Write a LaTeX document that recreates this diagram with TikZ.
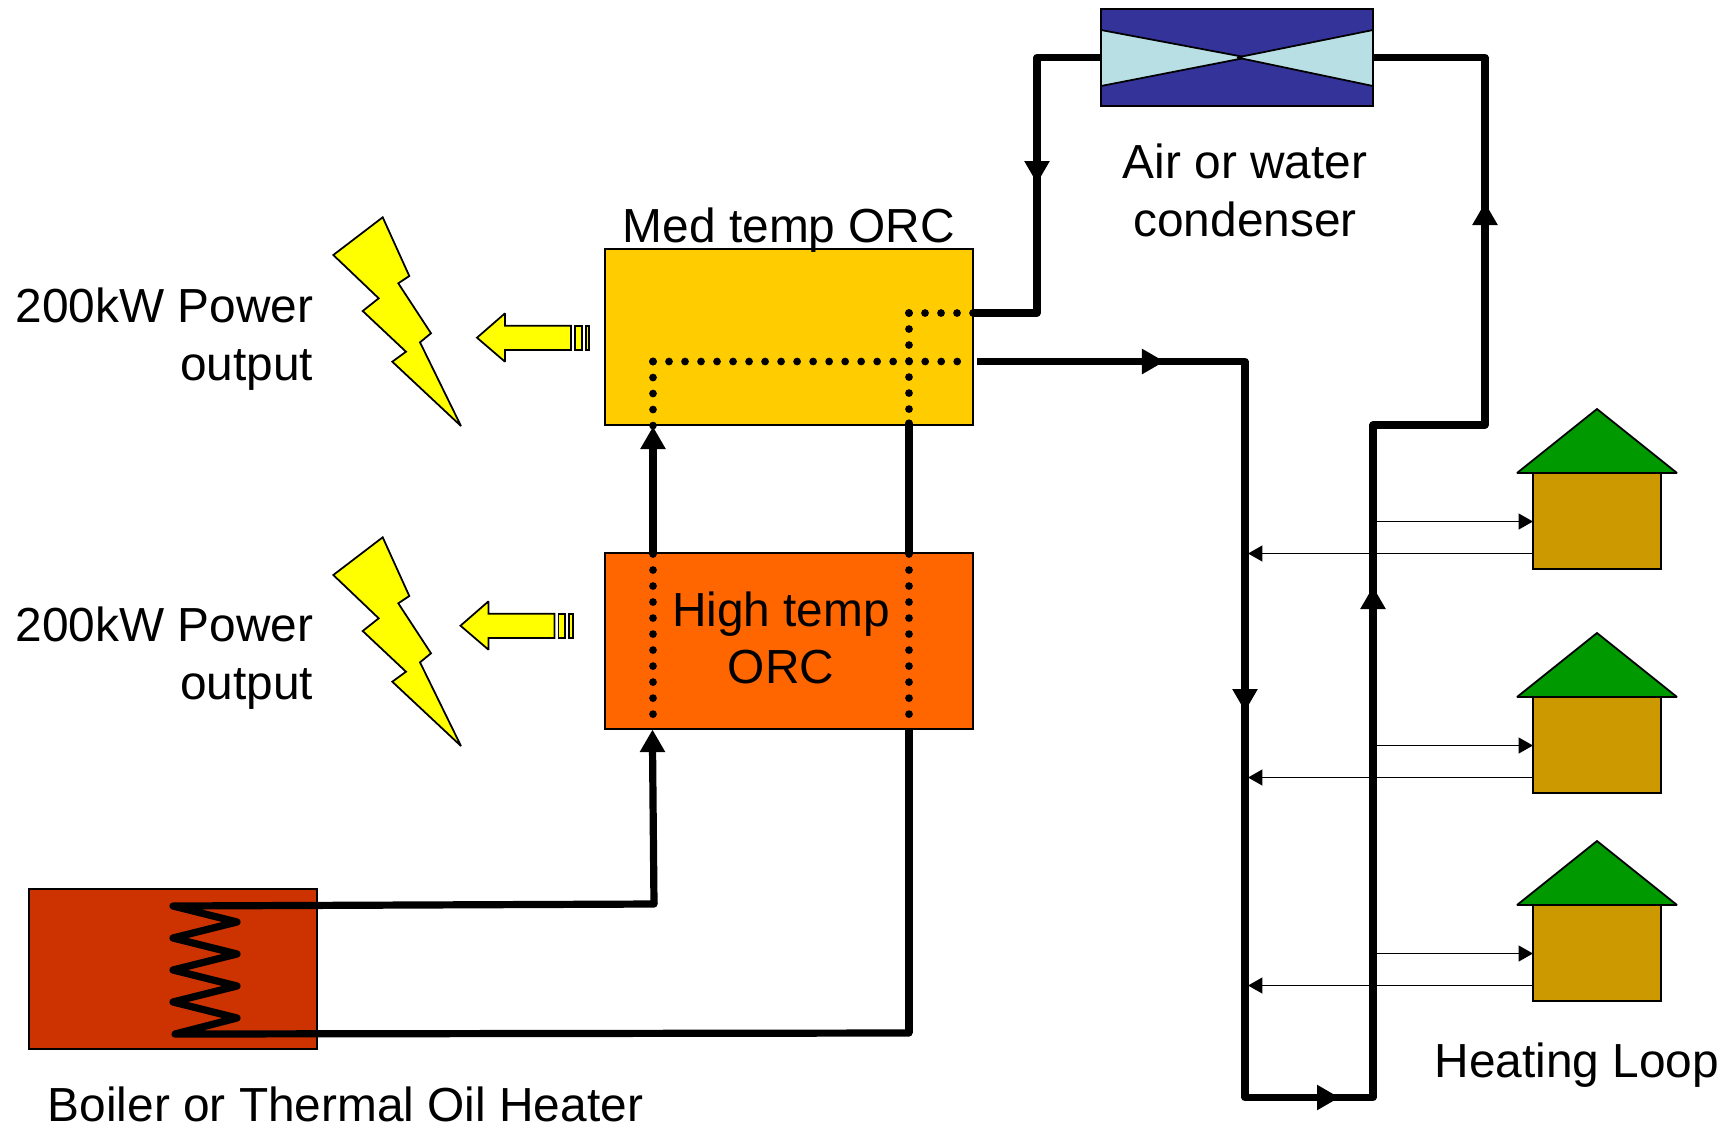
\documentclass[tikz,border=0pt]{standalone}
\usepackage{fontspec}
\setmainfont{Liberation Sans}
\usetikzlibrary{arrows.meta}
\definecolor{medorc}{RGB}{255,204,0}
\definecolor{highorc}{RGB}{255,102,0}
\definecolor{boilerred}{RGB}{204,51,0}
\definecolor{fanblue}{RGB}{51,51,153}
\definecolor{fanpale}{RGB}{184,224,228}
\definecolor{wallbrown}{RGB}{204,153,0}
\definecolor{roofgreen}{RGB}{0,153,0}
\definecolor{boltyellow}{RGB}{255,255,0}
\tikzset{
  txt/.style={font=\fontsize{13.6}{16.6}\selectfont, inner sep=0pt, align=center},
  plant/.style={draw=black, line width=0.5pt, inner sep=0pt},
  pipe/.style={line width=2.05pt, line join=round},
  pipetip/.style={line width=2.05pt, -{Triangle[length=6.4pt,width=6.8pt]}},
  dots/.style={line width=2.2pt, line cap=round, dash pattern=on 0pt off 4.553pt},
  branch/.style={line width=0.55pt, -{Triangle[length=4.1pt,width=4.5pt]}},
  bolt/.style={draw=black, fill=boltyellow, line width=0.5pt, miter limit=2},
  wall/.style={draw=black, fill=wallbrown, line width=0.5pt},
  roof/.style={draw=black, fill=roofgreen, line width=0.5pt, miter limit=2},
  blade/.style={draw=black, fill=fanpale, line width=0.5pt, miter limit=2}
}
\begin{document}
\begin{tikzpicture}[x=0.01cm,y=-0.01cm]
\useasboundingbox (0,0) rectangle (1732,1126);

% boxes
\node [plant, fill=medorc, minimum width=3.68cm, minimum height=1.76cm] (medbox) at (789,337) {};
\node [plant, fill=highorc, minimum width=3.68cm, minimum height=1.76cm] (highbox) at (789,641) {};
\node [plant, fill=boilerred, minimum width=2.88cm, minimum height=1.60cm] (boiler) at (173,969) {};
\node [plant, fill=fanblue, minimum width=2.72cm, minimum height=0.965cm] (fan) at (1237,57.5) {};

% condenser
\coordinate (FL1) at (1101,30);
\coordinate (FL2) at (1101,86);
\coordinate (FR1) at (1373,30);
\coordinate (FR2) at (1373,86);
\coordinate (FML) at (1247,57.5);
\coordinate (FMR) at (1237,57.5);
\draw [blade] (FL1)--(FML)--(FL2)--cycle;
\draw [blade] (FR1)--(FMR)--(FR2)--cycle;

% coil and boiler pipes
\coordinate (C0) at (173,906);
\coordinate (C1) at (237,922);
\coordinate (C2) at (173,938);
\coordinate (C3) at (237,954);
\coordinate (C4) at (173,970);
\coordinate (C5) at (237,986);
\coordinate (C6) at (173,1002);
\coordinate (C7) at (237,1018);
\coordinate (C8) at (175,1034);
\coordinate (HL) at (654,904);
\coordinate (HR) at (909,1033);
\draw [pipe, line cap=round] (HL)--(C0)--(C1)--(C2)--(C3)--(C4)--(C5)--(C6)--(C7)--(C8)--(HR);
\draw [pipe] (HR)--(HR |- highbox.south);
\draw [pipe] (HL)--(652.5,745);
\draw [pipetip] (652.5,760)--(652.5,729.5);
\draw [pipe, line cap=round] (909,423)--(909,553);
\draw [pipe, line cap=round] (653,553)--(653,445);
\draw [pipetip] (653,460)--(653,426.5);

% dotted runs inside the boxes
\draw [dots] (653,554)--(653,716);
\draw [dots] (909,554)--(909,716);
\draw [dots] (653,361.5)--(653,427);
\draw [dots] (653,361.5)--(960,361.5);
\draw [dots] (909,313)--(909,427);
\draw [dots] (909,313)--(975,313);

% outer loop
\coordinate (P1) at (973,313);
\coordinate (P2) at (1037,313);
\coordinate (P4) at (1037,57.5);
\coordinate (P5) at (1485,57.5);
\coordinate (P7) at (1485,425);
\coordinate (P8) at (1373,425);
\coordinate (P10) at (1373,1097.5);
\coordinate (P11) at (1245,1097.5);
\coordinate (P12) at (1245,361.5);
\coordinate (P13) at (977,361.5);
\draw [pipe] (P1)--(P2)--(P4)--(fan.west);
\draw [pipe] (fan.east)--(P5)--(P7)--(P8)--(P10)--(P11)--(P12)--(P13);

% flow tips on the loop
\draw [pipetip] (1037,150)--(1037,183.5);
\draw [pipetip] (1485,240)--(1485,202.5);
\draw [pipetip] (1120,361.5)--(1164.5,361.5);
\draw [pipetip] (1245,670)--(1245,711.5);
\draw [pipetip] (1300,1097.5)--(1339.5,1097.5);
\draw [pipetip] (1373,630)--(1373,586.5);

% houses
\draw [wall] (1533,473) rectangle (1661,569);
\draw [roof] (1517,473)--(1597,409)--(1677,473)--cycle;
\draw [wall] (1533,697) rectangle (1661,793);
\draw [roof] (1517,697)--(1597,633)--(1677,697)--cycle;
\draw [wall] (1533,905) rectangle (1661,1001);
\draw [roof] (1517,905)--(1597,841)--(1677,905)--cycle;

\draw [branch] (1373,521.5)--(1533,521.5);
\draw [branch] (1533,553.5)--(1248,553.5);
\draw [branch] (1373,745.5)--(1533,745.5);
\draw [branch] (1533,777.5)--(1248,777.5);
\draw [branch] (1373,953.5)--(1533,953.5);
\draw [branch] (1533,985.5)--(1248,985.5);

% lightning bolts
\draw [bolt] (382.7,217.3)--(409.3,276)--(398.3,283.3)--(431,333.3)--(420,342.3)--(461,426)--(392.3,361.7)--(406,351.7)--(362.7,311)--(378.7,298.3)--(333.3,255)--cycle;
\draw [bolt] (382.7,537.3)--(409.3,596)--(398.3,603.3)--(431,653.3)--(420,662.3)--(461,746)--(392.3,681.7)--(406,671.7)--(362.7,631)--(378.7,618.3)--(333.3,575)--cycle;

% output arrows
\draw [bolt] (477,337.7)--(505,313.3)--(505,325.7)--(571,325.7)--(571,350)--(505,350)--(505,361.7)--cycle;
\draw [bolt] (575,325.7) rectangle (581.7,350);
\draw [bolt] (585.7,325.7) rectangle (589.3,350);
\draw [bolt] (460.5,625.7)--(488.5,601.3)--(488.5,613.7)--(554.5,613.7)--(554.5,638)--(488.5,638)--(488.5,649.7)--cycle;
\draw [bolt] (558.5,613.7) rectangle (565.2,638);
\draw [bolt] (569.2,613.7) rectangle (572.8,638);

% labels
\node [txt, anchor=base] (medlabel) at (789,242) {Med temp ORC};
\node [txt, anchor=center] (highlabel) at (781,638) {High temp\\[-0.5pt]ORC};
\node [txt, anchor=center] (fanlabel) at (1245,190.5) {Air or water\\[-0.3pt]condenser};
\node [txt, align=right, anchor=east] (powertop) at (314,339.3) {200kW Power\\output};
\node [txt, align=right, anchor=east] (powerlow) at (314,658.3) {200kW Power\\output};
\node [txt, anchor=base west] (boilerlabel) at (47,1121) {Boiler or Thermal Oil Heater};
\node [txt, anchor=base west] (looplabel) at (1434,1077) {Heating Loop};
\end{tikzpicture}
\end{document}
